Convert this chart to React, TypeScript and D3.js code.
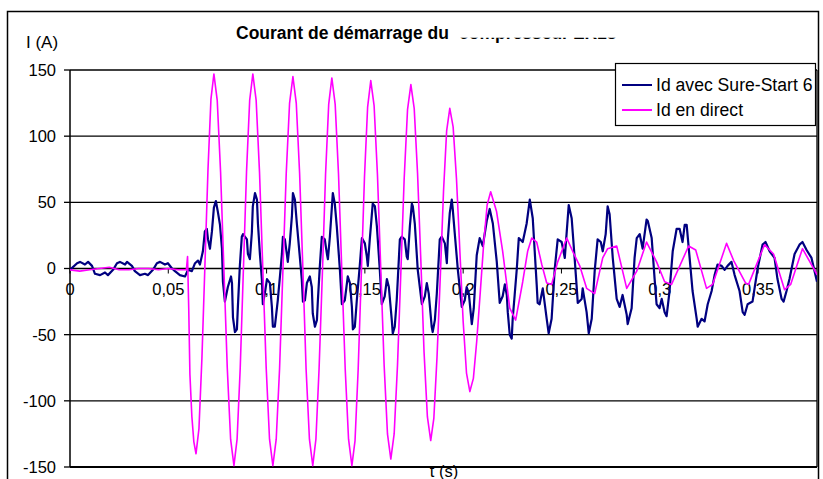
import React from 'react';
import * as d3 from 'd3';

// time in ms, current in A
const sureStart: [number, number][] = [
  [0, -1], [3.6, 4], [5.1, 5], [7.6, 3], [9.2, 5], [11.2, 2], [12.7, -4], [15.3, -5], [17.8, -3], [19.3, -5],
  [21.9, -1], [23.9, 4], [25.4, 5], [28.0, 3], [29.0, 5], [31.5, 2], [33.0, -2], [35.6, -5], [38.1, -4], [39.7, -5],
  [42.2, -1], [44.2, 4], [45.8, 5], [48.3, 3], [49.8, 4], [51.9, 0], [53.4, -2], [55.9, -5], [58.5, -6], [60.0, -1],
  [62.0, -2], [63.6, 4], [65.1, 6], [66.1, 3], [67.6, 13], [68.6, 28], [69.6, 30], [70.2, 22], [71.2, 15], [72.2, 28],
  [73.2, 46], [74.2, 51], [75.2, 43], [76.3, 33], [77.3, 15], [77.8, -10], [78.8, -25], [80.3, -14], [81.9, -6], [82.4, -11],
  [82.9, -37], [83.9, -48], [84.9, -46], [85.4, -29], [86.4, 2], [87.4, 24], [88.0, 26], [90.0, 22], [90.5, 11], [91.5, 7],
  [92.5, 27], [93.0, 47], [94.1, 57], [95.1, 52], [95.6, 34], [96.6, 11], [97.6, -8], [98.1, -27], [99.1, -19], [100.2, -8],
  [101.7, -11], [102.7, -29], [103.2, -44], [104.2, -44], [105.7, -24], [106.8, -6], [107.8, 11], [108.3, 24], [109.3, 22], [110.3, 11],
  [110.8, 5], [111.8, 19], [112.9, 40], [113.4, 57], [114.4, 52], [115.4, 34], [116.9, 9], [117.9, -8], [118.5, -25], [119.5, -24],
  [120.5, -11], [122.0, -6], [123.0, -14], [123.5, -34], [124.6, -44], [125.6, -39], [126.1, -24], [127.1, 2], [128.1, 24], [129.6, 22],
  [130.7, 11], [131.2, 7], [132.2, 24], [133.7, 57], [134.7, 49], [135.7, 32], [137.3, -1], [138.3, -27], [139.8, -24], [141.3, -6],
  [142.4, -11], [143.4, -29], [143.9, -46], [144.9, -44], [145.9, -24], [147.4, 2], [148.5, 23], [150.0, 19], [151.0, 9], [151.5, 2],
  [152.5, 22], [153.5, 40], [154.0, 49], [155.1, 47], [156.1, 32], [157.6, -1], [158.6, -27], [160.1, -21], [161.2, -8], [162.2, -14],
  [163.7, -39], [164.2, -49], [165.2, -44], [166.2, -24], [167.8, 22], [168.8, 24], [170.3, 22], [171.3, 9], [171.8, 7], [172.9, 32],
  [173.9, 49], [174.4, 47], [175.4, 34], [176.9, -1], [179.0, -27], [180.5, -21], [181.5, -11], [182.5, -19], [184.0, -44], [184.5, -48],
  [185.6, -39], [186.6, -19], [188.1, 22], [189.1, 24], [190.7, 19], [191.7, 4], [192.2, 22], [193.2, 42], [194.2, 52], [194.7, 45],
  [195.7, 27], [197.3, -1], [199.3, -29], [200.8, -24], [201.8, -14], [202.9, -19], [204.4, -42], [205.4, -30], [206.9, 10], [208.4, 23],
  [210.0, 17], [212.0, 36], [213.5, 45], [215.1, 34], [217.1, 5], [218.6, -26], [220.1, -21], [221.2, -12], [222.2, -20], [222.7, -33],
  [223.7, -50], [224.7, -53], [225.2, -38], [226.2, -20], [227.3, 0], [228.3, 23], [230.3, 20], [232.3, 34], [233.9, 52], [235.4, 38],
  [236.4, 13], [237.4, -12], [237.9, -26], [238.9, -27], [240.5, -15], [242.5, -38], [243.5, -49], [245.0, -38], [246.6, 0], [248.1, 22],
  [250.1, 20], [251.7, 8], [252.7, 28], [253.7, 48], [255.2, 38], [256.7, 8], [257.8, -15], [258.3, -26], [260.3, -23], [260.8, -15],
  [262.8, -33], [263.9, -49], [265.4, -38], [266.9, -2], [268.4, 22], [270.0, 20], [271.0, 13], [272.5, 26], [273.5, 47], [274.5, 41],
  [276.1, 8], [278.1, -23], [279.6, -29], [281.1, -20], [283.2, -35], [283.7, -42], [285.7, -30], [287.2, 8], [288.3, 23], [289.8, 26],
  [291.3, 15], [293.3, 37], [293.9, 36], [295.9, 23], [297.4, -8], [298.4, -27], [299.9, -30], [301.0, -23], [302.5, -33], [303.5, -36],
  [305.0, -17], [306.6, 13], [308.6, 30], [310.1, 30], [311.6, 20], [312.7, 33], [313.7, 33], [315.2, 8], [316.7, -17], [318.8, -38],
  [319.3, -44], [321.3, -38], [322.8, -40], [324.4, -27], [326.4, -17], [327.9, -5], [329.4, 3], [331.5, 2], [333.0, -1], [334.5, 2],
  [336.5, 5], [338.1, -5], [340.6, -17], [342.2, -33], [343.2, -35], [344.7, -27], [347.2, -25], [349.8, 0], [352.3, 18], [353.8, 20],
  [355.9, 13], [358.4, 8], [359.9, -8], [362.0, -23], [363.0, -25], [364.5, -17], [366.0, -8], [368.6, 11], [371.1, 18], [372.6, 20],
  [374.7, 14], [377.2, 8], [380.0, -10],
];

const direct: [number, number][] = [
  [0, -1], [5, -2], [10, -1], [15, 0], [20, 1], [25, -1], [30, -1], [35, 0], [40, 0], [45, -1], [50, 0], [55, -1], [59.2, -1],
  [59.8, 9], [60.4, -30], [61.0, -80], [62.0, -112], [63.0, -131], [64.1, -140],
  [65.6, -121], [67.1, -68], [68.65, 3], [70.2, 75], [71.7, 128], [73.2, 147],
  [74.9, 127], [76.6, 73], [78.3, -1], [80.0, -75], [81.7, -129], [83.4, -149],
  [85.0, -129], [86.6, -75], [88.2, -1], [89.8, 73], [91.4, 127], [93.0, 147],
  [94.7, 127], [96.4, 73], [98.1, -1], [99.8, -75], [101.5, -129], [103.2, -149],
  [104.9, -129], [106.6, -76], [108.3, -2], [110.0, 72], [111.7, 125], [113.4, 145],
  [115.1, 125], [116.8, 72], [118.5, -2], [120.1, -76], [121.8, -129], [123.5, -149],
  [125.1, -129], [126.7, -76], [128.4, -3], [130.0, 71], [131.6, 124], [133.2, 144],
  [134.9, 124], [136.6, 71], [138.3, -3], [140.0, -76], [141.7, -129], [143.4, -149],
  [145.0, -130], [146.6, -76], [148.2, -4], [149.8, 69], [151.4, 122], [153.0, 142],
  [154.7, 123], [156.4, 71], [158.1, -1], [159.8, -73], [161.5, -125], [163.2, -144],
  [164.9, -125], [166.6, -73], [168.3, -3], [170.0, 68], [171.7, 120], [173.4, 139],
  [175.1, 121], [176.8, 72], [178.5, 5], [180.1, -63], [181.8, -112], [183.5, -130],
  [185.1, -113], [186.7, -67], [188.4, -5], [190.0, 58], [191.6, 104], [193.2, 121],
  [194.9, 107], [196.6, 68], [198.3, 14], [200.0, -40], [201.7, -79], [203.4, -93],
  [205.2, -83], [206.9, -55], [208.7, -18], [210.5, 20], [212.2, 48], [214.0, 58],
  [217.0, 43], [220.1, 13], [223.7, -30], [226.7, -39],
  [230.3, -10], [232.8, 13], [234.9, 23], [237.4, 20], [240.0, 3], [242.5, -11], [245.0, -12], [248.1, 5],
  [252.7, 23], [255.7, 13], [259.3, 2], [262.8, -15], [266.9, -19], [271.0, 8], [273.5, 15], [278.1, 17],
  [283.2, -15], [288.3, -2], [293.3, 20], [298.4, 5], [302.5, -10], [306.0, -12], [314.7, 17], [318.3, 14],
  [323.8, -15], [326.9, -12], [334.0, 19], [337.6, 6], [343.7, -11], [345.2, -12], [353.3, 18], [357.9, 11],
  [363.5, -16], [366.6, -12], [372.6, 15], [379.8, -4], [380.0, -5],
];

const yTicks = [150, 100, 50, 0, -50, -100, -150];
const xTicks = [0, 0.05, 0.1, 0.15, 0.2, 0.25, 0.3, 0.35];

const FONT = '"Liberation Sans", Arial, sans-serif';

const App: React.FC = () => {
  const width = 823;
  const height = 479;
  const plot = { left: 70, right: 817, top: 70, bottom: 467 };

  const x = d3.scaleLinear().domain([0, 0.38]).range([plot.left, plot.right]);
  const y = d3.scaleLinear().domain([-150, 150]).range([plot.bottom, plot.top]);

  const line = d3
    .line<[number, number]>()
    .x((d) => x(d[0] / 1000))
    .y((d) => y(d[1]));

  const fmt = (v: number) => String(v).replace('.', ',');

  return (
    <svg
      width={width}
      height={height}
      style={{ position: 'absolute', left: 0, top: 0, background: '#fff' }}
      fontFamily={FONT}
    >
      <defs>
        <clipPath id="plotClip">
          <rect x={plot.left} y={plot.top - 2} width={plot.right - plot.left} height={plot.bottom - plot.top + 4} />
        </clipPath>
        <clipPath id="titleClip">
          <rect x={450} y={37.8} width={200} height={10} />
        </clipPath>
      </defs>

      {/* chart area border */}
      <rect x={7.5} y={11.5} width={811} height={480} fill="#fff" stroke="#000" strokeWidth={1.5} />

      {/* title, second half hidden */}
      <text x={236} y={39} fontSize={17.5} fontWeight="bold">
        Courant de démarrage du
      </text>
      <text x={459} y={39} fontSize={17.5} fontWeight="bold" clipPath="url(#titleClip)">
        compresseur ZR18
      </text>

      <text x={26} y={48} fontSize={17}>
        I (A)
      </text>

      {/* horizontal grid */}
      {yTicks.map((v) => (
        <g key={v}>
          <line x1={plot.left} x2={plot.right} y1={y(v)} y2={y(v)} stroke="#000" strokeWidth={1.3} />
          <line x1={plot.left - 6} x2={plot.left} y1={y(v)} y2={y(v)} stroke="#000" strokeWidth={1.3} />
          <text x={56} y={y(v)} dy="0.36em" fontSize={16.5} textAnchor="end">
            {v}
          </text>
        </g>
      ))}

      {/* plot frame */}
      <line x1={plot.left} x2={plot.left} y1={plot.top} y2={plot.bottom} stroke="#000" strokeWidth={1.5} />
      <line x1={plot.right} x2={plot.right} y1={plot.top} y2={plot.bottom} stroke="#000" strokeWidth={1.3} />
      <line x1={plot.left} x2={plot.right} y1={plot.bottom} y2={plot.bottom} stroke="#000" strokeWidth={2} />

      {/* x ticks on the zero line */}
      {xTicks.map((t) => (
        <g key={t}>
          <line x1={x(t)} x2={x(t)} y1={y(0)} y2={y(0) + 5} stroke="#000" strokeWidth={1} />
          <text x={x(t)} y={295} fontSize={16.5} textAnchor="middle">
            {fmt(t)}
          </text>
        </g>
      ))}

      <g clipPath="url(#plotClip)" fill="none" strokeLinejoin="round">
        <path d={line(sureStart) || ''} stroke="#000080" strokeWidth={2.2} />
        <path d={line(direct) || ''} stroke="#FF00FF" strokeWidth={1.6} />
      </g>

      <text x={444} y={477} fontSize={16.5} textAnchor="middle">
        t (s)
      </text>

      {/* legend */}
      <g>
        <rect x={615.5} y={63.5} width={200} height={62} fill="#fff" stroke="#000" strokeWidth={1.2} />
        <line x1={622} x2={652} y1={85} y2={85} stroke="#000080" strokeWidth={2} />
        <text x={656} y={91} fontSize={17.6}>
          Id avec Sure-Start 6
        </text>
        <line x1={622} x2={652} y1={110} y2={110} stroke="#FF00FF" strokeWidth={2} />
        <text x={656} y={116} fontSize={17.6}>
          Id en direct
        </text>
      </g>
    </svg>
  );
};

export default App;
